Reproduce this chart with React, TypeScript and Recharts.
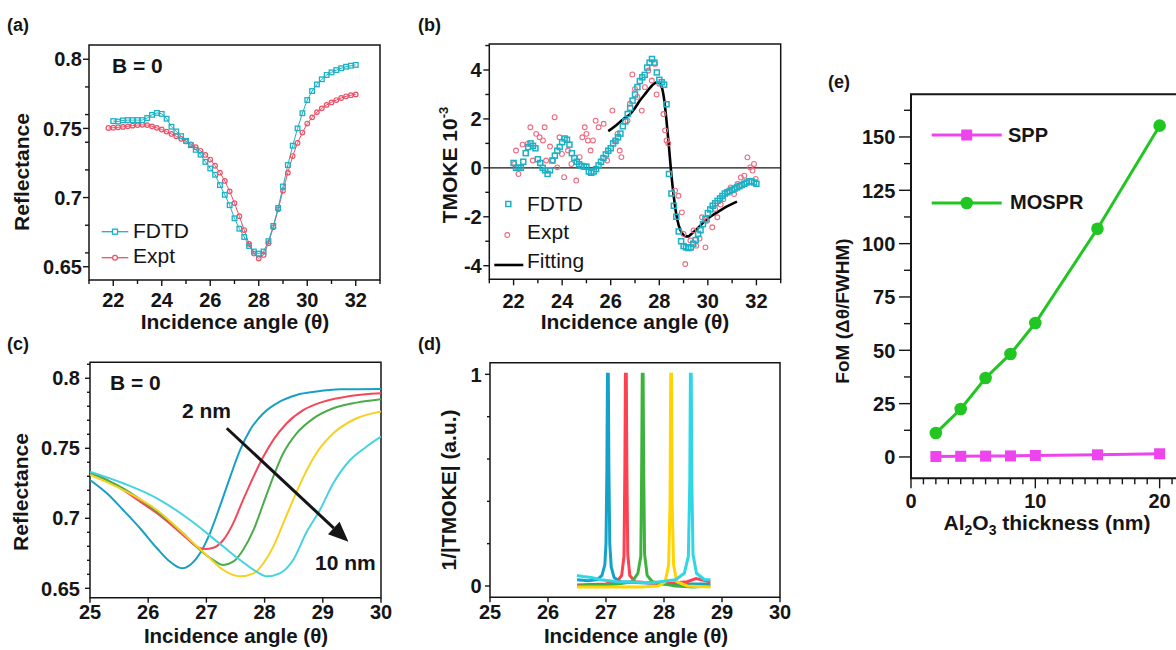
import React from "react";
import {
  ComposedChart,
  Line,
  Scatter,
  XAxis,
  YAxis,
  ReferenceArea,
  ReferenceLine,
} from "recharts";

const FONT = '"Liberation Sans", Arial, Helvetica, sans-serif';
const INK = "#151515";

// (a) reflectance at B = 0, FDTD vs experiment
const A_FDTD_START = 22;
const A_EXPT_START = 21.8;
const A_STEP = 0.2;
const aFdtd = [
  0.7553, 0.755, 0.7558, 0.756, 0.756, 0.756, 0.756, 0.7575, 0.7598, 0.7612,
  0.7605, 0.757, 0.7512, 0.7478, 0.7444, 0.741, 0.7379, 0.7345, 0.731, 0.7258,
  0.721, 0.7165, 0.709, 0.702, 0.6945, 0.685, 0.6775, 0.6715, 0.665, 0.661,
  0.6595, 0.661, 0.6685, 0.6795, 0.6925, 0.708, 0.7235, 0.7375, 0.75, 0.761,
  0.7705, 0.777, 0.7818, 0.7855, 0.7886, 0.7905, 0.7922, 0.7935, 0.7946, 0.7953,
  0.7959,
];
const aExpt = [
  0.7503, 0.7505, 0.7508, 0.7511, 0.7515, 0.752, 0.7524, 0.7526, 0.7524, 0.7515,
  0.7504, 0.7492, 0.7477, 0.746, 0.7443, 0.7425, 0.7406, 0.7385, 0.7364, 0.7338,
  0.7308, 0.7275, 0.723, 0.718, 0.712, 0.7045, 0.696, 0.6865, 0.6765, 0.6665,
  0.6595, 0.656, 0.6585, 0.667, 0.6785, 0.6915, 0.705, 0.718, 0.73, 0.7395,
  0.747, 0.7535, 0.758, 0.7618, 0.7645, 0.767, 0.7688, 0.7705, 0.772, 0.7732,
  0.774, 0.7746,
];

// (b) TMOKE in units of 1e-3
const B_FDTD_START = 22;
const B_STEP = 0.1;
const bFdtd = [
  0.2, 0, 0, 0, 0.25, 0.6, 0.85, 1.0, 0.9, 0.8,
  0.35, 0.2, 0, -0.1, -0.25, -0.1, 0.3, 0.5, 0.7, 0.85,
  1.05, 1.2, 1.15, 0.95, 0.6, 0.4, 0.25, 0.15, 0.08, 0.05,
  0.05, -0.15, -0.2, -0.15, -0.05, 0.1, 0.25, 0.4, 0.55, 0.7,
  0.8, 1.0, 1.1, 1.25, 1.4, 1.7, 1.9, 2.2, 2.45, 2.75,
  3.0, 3.3, 3.55, 3.7, 3.8, 4.1, 4.3, 4.45, 4.3, 3.9,
  3.6, 3.5, 3.4, 2.6, -0.25, -1.05, -1.55, -2.0, -2.6, -3.0,
  -3.2, -3.25, -3.28, -3.25, -3.1, -2.95, -2.7, -2.55, -2.3, -2.1,
  -1.85, -1.7, -1.55, -1.45, -1.35, -1.25, -1.15, -1.05, -1.0, -0.95,
  -0.9, -0.85, -0.8, -0.75, -0.7, -0.65, -0.6, -0.55, -0.55, -0.6,
  -0.65,
];
const bExpt: [number, number][] = [
  [22.03, 0.16], [22.1, 0.71], [22.2, -0.25], [22.37, 0.95], [22.58, 0.98],
  [22.69, 1.66], [22.79, 0.3], [22.93, 1.39], [23.07, 1.25], [23.21, 1.12],
  [23.28, 1.66], [23.34, 0.3], [23.5, 0.87], [23.62, 0.3], [23.69, 2.07],
  [23.8, 0.02], [23.89, 1.25], [23.99, 0.57], [24.08, -0.38], [24.24, 0.71],
  [24.38, 0.16], [24.58, -0.52], [24.72, 0.44], [24.83, 1.25], [24.93, 1.66],
  [25.0, 1.39], [25.06, 1.12], [25.17, 0.71], [25.27, 1.12], [25.38, 1.93],
  [25.5, 1.66], [25.71, 1.8], [25.85, 0.3], [26.07, 2.34], [26.17, 1.12],
  [26.28, 1.39], [26.37, 0.71], [26.44, 0.44], [26.69, 1.93], [26.79, 2.62],
  [26.89, 3.82], [27.0, 3.23], [27.1, 2.9], [27.28, 2.34], [27.41, 3.3],
  [27.55, 3.98], [27.69, 3.57], [27.82, 4.25], [27.89, 3.0], [28.0, 3.44],
  [28.17, 2.2], [28.24, 1.53], [28.3, 1.12], [28.37, 1.0], [28.65, -0.93],
  [28.79, -1.14], [28.93, -1.82], [29.0, -2.7], [29.07, -3.93], [29.28, -2.97],
  [29.41, -2.56], [29.52, -3.18], [29.66, -2.89], [29.76, -2.02], [29.9, -3.25],
  [29.97, -2.16], [30.18, -2.43], [30.3, -1.68], [30.39, -2.02], [30.53, -1.5],
  [30.64, -1.28], [30.8, -1.01], [30.94, -0.8], [31.08, -1.07], [31.22, -0.66],
  [31.36, -0.39], [31.5, -0.32], [31.63, 0.43], [31.74, 0.02], [31.84, -0.11],
  [31.9, 0.16], [31.97, -0.45],
];
const bFit: [number, number][] = [
  [25.9, 1.5], [26.2, 1.72], [26.5, 1.98], [26.8, 2.2], [27.0, 2.45],
  [27.2, 2.75], [27.4, 3.0], [27.6, 3.25], [27.8, 3.45], [27.95, 3.5],
  [28.1, 3.3], [28.2, 2.8], [28.3, 1.9], [28.4, 0.85], [28.5, -0.3],
  [28.6, -1.2], [28.7, -1.9], [28.8, -2.35], [28.9, -2.6], [29.0, -2.75],
  [29.1, -2.8], [29.2, -2.8], [29.3, -2.72], [29.5, -2.55], [29.75, -2.3],
  [30.0, -2.07], [30.25, -1.9], [30.5, -1.75], [30.75, -1.6], [31.0, -1.47],
  [31.2, -1.38],
];

// (c) reflectance for Al2O3 thickness 2..10 nm
const cNames = ["2 nm", "4 nm", "6 nm", "8 nm", "10 nm"];
const cColors = ["#1a9fc4", "#f5475a", "#4aac4a", "#f7d020", "#45d3e0"];
const c2nm: [number, number][] = [
  [25, 0.7274], [25.29, 0.7179], [25.57, 0.7059], [25.86, 0.6929], [26.15, 0.6786],
  [26.37, 0.6691], [26.58, 0.6643], [26.72, 0.6667], [26.89, 0.675], [27.06, 0.6893],
  [27.23, 0.7083], [27.41, 0.7298], [27.58, 0.7488], [27.75, 0.7631], [27.98, 0.775],
  [28.26, 0.7833], [28.55, 0.7881], [28.89, 0.7905], [29.3, 0.7921], [30, 0.7924],
];
const c4nm: [number, number][] = [
  [25, 0.7326], [25.29, 0.7274], [25.57, 0.7202], [25.86, 0.7119], [26.15, 0.7036],
  [26.43, 0.6941], [26.66, 0.6857], [26.83, 0.6798], [26.98, 0.6781], [27.12, 0.679],
  [27.29, 0.6845], [27.46, 0.6964], [27.63, 0.7131], [27.81, 0.7298], [27.98, 0.7441],
  [28.15, 0.756], [28.38, 0.7679], [28.67, 0.7774], [29.01, 0.7833], [29.47, 0.7874],
  [30, 0.7893],
];
const c6nm: [number, number][] = [
  [25, 0.7326], [25.57, 0.7214], [26.15, 0.7048], [26.6, 0.6893], [26.89, 0.6774],
  [27.12, 0.6702], [27.29, 0.6667], [27.46, 0.669], [27.63, 0.6774], [27.81, 0.6917],
  [27.98, 0.7107], [28.15, 0.7298], [28.32, 0.7464], [28.55, 0.7607], [28.84, 0.7714],
  [29.18, 0.7786], [29.58, 0.7826], [30, 0.785],
];
const c8nm: [number, number][] = [
  [25, 0.7309], [25.57, 0.7202], [26.15, 0.7059], [26.72, 0.6845], [27.0, 0.6738],
  [27.29, 0.6631], [27.58, 0.6586], [27.81, 0.6607], [27.98, 0.6679], [28.15, 0.6798],
  [28.32, 0.6964], [28.49, 0.7131], [28.67, 0.7298], [28.89, 0.7464], [29.18, 0.7607],
  [29.52, 0.7702], [30, 0.7762],
];
const c10nm: [number, number][] = [
  [25, 0.7333], [25.57, 0.725], [26.15, 0.7143], [26.72, 0.6988], [27.29, 0.6798],
  [27.58, 0.6702], [27.86, 0.6619], [28.04, 0.6586], [28.26, 0.6607], [28.49, 0.6702],
  [28.72, 0.69], [28.95, 0.7059], [29.18, 0.725], [29.47, 0.7416], [29.75, 0.7511],
  [30, 0.7583],
];
const cCurves = [c2nm, c4nm, c6nm, c8nm, c10nm];

// (d) 1/|TMOKE|, normalised
const dColors = ["#15a2c8", "#ff4050", "#3db33d", "#ffd400", "#2ed6e6"];
const d2nm: [number, number][] = [
  [26.5, 0.03], [26.7, 0.025], [26.85, 0.03], [26.93, 0.05], [26.98, 0.1],
  [27.0, 0.2], [27.015, 0.55], [27.025, 1.0], [27.04, 1.0], [27.05, 0.55],
  [27.065, 0.2], [27.09, 0.09], [27.14, 0.04], [27.25, 0.02], [27.6, 0.015],
  [28.2, 0.01], [28.8, 0.01],
];
const d4nm: [number, number][] = [
  [26.5, 0.005], [27.0, 0.01], [27.2, 0.025], [27.27, 0.05], [27.31, 0.14],
  [27.325, 0.55], [27.335, 1.0], [27.35, 1.0], [27.36, 0.55], [27.375, 0.15],
  [27.41, 0.05], [27.5, 0.02], [28.0, 0.01], [28.4, 0.02], [28.55, 0.035],
  [28.8, 0.02],
];
const d6nm: [number, number][] = [
  [26.5, 0.0], [27.2, 0.01], [27.45, 0.02], [27.55, 0.06], [27.6, 0.14],
  [27.615, 0.55], [27.625, 1.0], [27.64, 1.0], [27.65, 0.55], [27.665, 0.15],
  [27.71, 0.05], [27.8, 0.02], [28.2, 0.0], [28.5, -0.005], [28.8, 0.0],
];
const d8nm: [number, number][] = [
  [26.5, -0.005], [27.6, -0.005], [27.9, 0.0], [28.02, 0.02], [28.08, 0.1],
  [28.105, 0.4], [28.115, 1.0], [28.13, 1.0], [28.14, 0.4], [28.165, 0.1],
  [28.22, 0.02], [28.4, 0.0], [28.8, -0.005],
];
const d10nm: [number, number][] = [
  [26.5, 0.05], [26.6, 0.045], [26.75, 0.04], [26.9, 0.03], [27.2, 0.02],
  [27.8, 0.015], [28.2, 0.03], [28.35, 0.06], [28.42, 0.14], [28.445, 0.5],
  [28.455, 1.0], [28.47, 1.0], [28.48, 0.5], [28.5, 0.15], [28.56, 0.06],
  [28.7, 0.03], [28.8, 0.03],
];
const dCurves = [d2nm, d4nm, d6nm, d8nm, d10nm];

// (e) figure of merit vs Al2O3 thickness
const eThickness = [2, 4, 6, 8, 10, 15, 20];
const eSpp = [0.2, 0.3, 0.4, 0.5, 0.7, 1.0, 1.5];
const eMospr = [11.2, 22.5, 37, 48.3, 62.8, 107, 155.3];

const CYAN = "#1cb0c4";
const RED = "#ec5066";
const PINK = "#ee6a80";
const MAGENTA = "#ee44ee";
const GREEN = "#22c622";

const grid = (start: number, step: number, vals: number[]) =>
  vals.map((y, i) => ({ x: +(start + i * step).toFixed(3), y }));
const pairs = (list: [number, number][]) => list.map(([x, y]) => ({ x, y }));
const range = (a: number, b: number, s: number) => {
  const out: number[] = [];
  for (let v = a; v <= b + 1e-9; v += s) out.push(+v.toFixed(4));
  return out;
};

type TickSpec = {
  labels: number[];
  longs: number[];
  fmt: (v: number) => string;
  long: number;
  short: number;
  gap: number;
  size: number;
};
const has = (list: number[], v: number) =>
  list.some((m) => Math.abs(m - v) < 1e-6);

const bottomTick = (s: TickSpec) => (p: any) => {
  const v = Number(p.payload.value);
  const y0 = p.y - s.gap;
  return (
    <g>
      <line
        x1={p.x}
        x2={p.x}
        y1={y0}
        y2={y0 + (has(s.longs, v) ? s.long : s.short)}
        stroke={INK}
        strokeWidth={1.4}
      />
      {has(s.labels, v) && (
        <text
          x={p.x}
          y={p.y}
          dy="0.72em"
          textAnchor="middle"
          fontSize={s.size}
          fontWeight={700}
          fill={INK}
          fontFamily={FONT}
        >
          {s.fmt(v)}
        </text>
      )}
    </g>
  );
};

const leftTick = (s: TickSpec) => (p: any) => {
  const v = Number(p.payload.value);
  const x0 = p.x + s.gap;
  return (
    <g>
      <line
        x1={x0}
        x2={x0 - (has(s.longs, v) ? s.long : s.short)}
        y1={p.y}
        y2={p.y}
        stroke={INK}
        strokeWidth={1.4}
      />
      {has(s.labels, v) && (
        <text
          x={p.x}
          y={p.y}
          dy="0.36em"
          textAnchor="end"
          fontSize={s.size}
          fontWeight={700}
          fill={INK}
          fontFamily={FONT}
        >
          {s.fmt(v)}
        </text>
      )}
    </g>
  );
};

const openSquare = (color: string, size: number, sw: number) => (p: any) =>
  p.cx == null ? <g key={`q${p.index}`} /> : (
    <rect
      key={`q${p.index}`}
      x={p.cx - size / 2}
      y={p.cy - size / 2}
      width={size}
      height={size}
      fill="none"
      stroke={color}
      strokeWidth={sw}
    />
  );

const openCircle = (color: string, r: number, sw: number) => (p: any) =>
  p.cx == null ? <g key={`c${p.index}`} /> : (
    <circle key={`c${p.index}`} cx={p.cx} cy={p.cy} r={r} fill="none" stroke={color} strokeWidth={sw} />
  );

const filledSquare = (color: string, size: number) => (p: any) => (
  <rect key={`fs${p.index}`} x={p.cx - size / 2} y={p.cy - size / 2} width={size} height={size} fill={color} />
);
const filledCircle = (color: string, r: number) => (p: any) => (
  <circle key={`fc${p.index}`} cx={p.cx} cy={p.cy} r={r} fill={color} />
);

const arrowShape = (p: any) => {
  const { x1, y1, x2, y2 } = p;
  const dx = x2 - x1;
  const dy = y2 - y1;
  const len = Math.hypot(dx, dy) || 1;
  const ux = dx / len;
  const uy = dy / len;
  const head = 20;
  const half = 8.5;
  const bx = x2 - ux * head;
  const by = y2 - uy * head;
  return (
    <g>
      <line x1={x1} y1={y1} x2={bx} y2={by} stroke={INK} strokeWidth={3} />
      <polygon
        points={`${x2},${y2} ${bx - uy * half},${by + ux * half} ${bx + uy * half},${by - ux * half}`}
        fill={INK}
      />
    </g>
  );
};

const fmtDec = (v: number) => String(v);

function PanelA() {
  const xd: [number, number] = [21, 33];
  const yd: [number, number] = [0.6404, 0.8103];
  return (
    <ComposedChart width={400} height={320} margin={{ top: 45, right: 20, bottom: 10, left: 29 }}>
      <XAxis
        type="number" dataKey="x" domain={xd} ticks={range(21, 33, 1)} interval={0}
        allowDataOverflow height={30} axisLine={false} tickLine={false} tickSize={0} tickMargin={13}
        tick={bottomTick({ labels: range(22, 32, 2), longs: range(22, 32, 2), fmt: fmtDec, long: 6, short: 4, gap: 13, size: 20 })}
      />
      <YAxis
        type="number" dataKey="y" domain={yd}
        ticks={[0.65, 0.66, 0.68, 0.7, 0.72, 0.74, 0.75, 0.76, 0.78, 0.8]} interval={0}
        allowDataOverflow width={60} axisLine={false} tickLine={false} tickSize={0} tickMargin={7}
        tick={leftTick({ labels: [0.65, 0.7, 0.75, 0.8], longs: [0.65, 0.7, 0.75, 0.8], fmt: fmtDec, long: 6, short: 4, gap: 7, size: 20 })}
      />
      <ReferenceArea x1={xd[0]} x2={xd[1]} y1={yd[0]} y2={yd[1]} fill="none" stroke={INK} strokeWidth={1.5} ifOverflow="visible" />
      <Line data={grid(A_EXPT_START, A_STEP, aExpt)} dataKey="y" type="linear" stroke={RED} strokeWidth={1}
        dot={openCircle(RED, 2.3, 1.2)} activeDot={false} isAnimationActive={false} />
      <Line data={grid(A_FDTD_START, A_STEP, aFdtd)} dataKey="y" type="linear" stroke={CYAN} strokeWidth={1}
        dot={openSquare(CYAN, 4.6, 1.3)} activeDot={false} isAnimationActive={false} />
    </ComposedChart>
  );
}

function PanelB() {
  const xd: [number, number] = [21, 33];
  const yd: [number, number] = [-4.556, 5.063];
  return (
    <ComposedChart width={400} height={320} margin={{ top: 44, right: 19.3, bottom: 10.7, left: 29.3 }}>
      <XAxis
        type="number" dataKey="x" domain={xd} ticks={range(21, 33, 1)} interval={0}
        allowDataOverflow height={30} axisLine={false} tickLine={false} tickSize={0} tickMargin={14}
        tick={bottomTick({ labels: range(22, 32, 2), longs: range(22, 32, 2), fmt: fmtDec, long: 6, short: 4, gap: 14, size: 20 })}
      />
      <YAxis
        type="number" dataKey="y" domain={yd} ticks={range(-4, 5, 1)} interval={0}
        allowDataOverflow width={60} axisLine={false} tickLine={false} tickSize={0} tickMargin={7.6}
        tick={leftTick({ labels: [-4, -2, 0, 2, 4], longs: [-4, -2, 0, 2, 4], fmt: fmtDec, long: 6, short: 4, gap: 7.6, size: 20 })}
      />
      <ReferenceArea x1={xd[0]} x2={xd[1]} y1={yd[0]} y2={yd[1]} fill="none" stroke={INK} strokeWidth={1.5} ifOverflow="visible" />
      <ReferenceLine y={0} stroke={INK} strokeWidth={1.3} />
      <Scatter data={pairs(bExpt)} dataKey="y" shape={openCircle(PINK, 2.4, 1.1)} isAnimationActive={false} />
      <Scatter data={grid(B_FDTD_START, B_STEP, bFdtd)} dataKey="y" shape={openSquare(CYAN, 5, 1.5)} isAnimationActive={false} />
      <Line data={pairs(bFit)} dataKey="y" type="monotone" stroke="#000" strokeWidth={2.6} dot={false} activeDot={false} isAnimationActive={false} />
    </ComposedChart>
  );
}

function PanelC() {
  const xd: [number, number] = [25, 30];
  const yd: [number, number] = [0.6433, 0.8114];
  return (
    <ComposedChart width={400} height={320} margin={{ top: 42.3, right: 19, bottom: 12.3, left: 30 }}>
      <XAxis
        type="number" dataKey="x" domain={xd} ticks={range(25, 30, 1)} interval={0}
        allowDataOverflow height={30} axisLine={false} tickLine={false} tickSize={0} tickMargin={7}
        tick={bottomTick({ labels: range(25, 30, 1), longs: range(25, 30, 1), fmt: fmtDec, long: 5, short: 3, gap: 7, size: 20 })}
      />
      <YAxis
        type="number" dataKey="y" domain={yd} ticks={range(0.65, 0.81, 0.01)} interval={0}
        allowDataOverflow width={60} axisLine={false} tickLine={false} tickSize={0} tickMargin={10}
        tick={leftTick({ labels: [0.65, 0.7, 0.75, 0.8], longs: [0.65, 0.7, 0.75, 0.8], fmt: fmtDec, long: 5, short: 3, gap: 10, size: 20 })}
      />
      <ReferenceArea x1={xd[0]} x2={xd[1]} y1={yd[0]} y2={yd[1]} fill="none" stroke={INK} strokeWidth={1.5} ifOverflow="visible" />
      {cCurves.map((c, i) => (
        <Line key={cNames[i]} name={cNames[i]} data={pairs(c)} dataKey="y" type="monotone"
          stroke={cColors[i]} strokeWidth={2} dot={false} activeDot={false} isAnimationActive={false} />
      ))}
      <ReferenceLine
        segment={[{ x: 27.35, y: 0.7643 }, { x: 29.44, y: 0.6833 }]}
        ifOverflow="visible"
        shape={arrowShape}
      />
    </ComposedChart>
  );
}

function PanelD() {
  const xd: [number, number] = [25, 30];
  const yd: [number, number] = [-0.0534, 1.055];
  return (
    <ComposedChart width={400} height={320} margin={{ top: 42.7, right: 20, bottom: 12.7, left: 30 }}>
      <XAxis
        type="number" dataKey="x" domain={xd} ticks={range(25, 30, 1)} interval={0}
        allowDataOverflow height={30} axisLine={false} tickLine={false} tickSize={0} tickMargin={7}
        tick={bottomTick({ labels: range(25, 30, 1), longs: range(25, 30, 1), fmt: fmtDec, long: 5, short: 3, gap: 7, size: 20 })}
      />
      <YAxis
        type="number" dataKey="y" domain={yd} ticks={range(0, 1, 0.2)} interval={0}
        allowDataOverflow width={60} axisLine={false} tickLine={false} tickSize={0} tickMargin={8.3}
        tick={leftTick({ labels: [0, 1], longs: [0, 1], fmt: fmtDec, long: 5, short: 3, gap: 8.3, size: 20 })}
      />
      <ReferenceArea x1={xd[0]} x2={xd[1]} y1={yd[0]} y2={yd[1]} fill="none" stroke={INK} strokeWidth={1.5} ifOverflow="visible" />
      {dCurves.map((c, i) => (
        <Line key={cNames[i]} name={cNames[i]} data={pairs(c)} dataKey="y" type="linear"
          stroke={dColors[i]} strokeWidth={3} dot={false} activeDot={false} isAnimationActive={false} />
      ))}
    </ComposedChart>
  );
}

function PanelE() {
  const xd: [number, number] = [0, 22];
  const yd: [number, number] = [-10, 170];
  const spp = eThickness.map((x, i) => ({ x, y: eSpp[i] }));
  const mospr = eThickness.map((x, i) => ({ x, y: eMospr[i] }));
  return (
    <ComposedChart width={380} height={480} margin={{ top: 34.3, right: 15.5, bottom: 31.7, left: 31 }}>
      <XAxis
        type="number" dataKey="x" domain={xd} ticks={range(0, 21, 1)} interval={0}
        allowDataOverflow height={30} axisLine={false} tickLine={false} tickSize={0} tickMargin={15}
        tick={bottomTick({ labels: [0, 10, 20], longs: [0, 10, 20], fmt: fmtDec, long: 10, short: 6, gap: 15, size: 20 })}
      />
      <YAxis
        type="number" dataKey="y" domain={yd} ticks={range(0, 162.5, 12.5)} interval={0}
        allowDataOverflow width={60} axisLine={false} tickLine={false} tickSize={0} tickMargin={15.7}
        tick={leftTick({ labels: range(0, 150, 25), longs: range(0, 150, 25), fmt: fmtDec, long: 12, short: 7, gap: 15.7, size: 20 })}
      />
      <ReferenceArea x1={xd[0]} x2={xd[1]} y1={yd[0]} y2={yd[1]} fill="none" stroke={INK} strokeWidth={2} ifOverflow="visible" />
      <Line data={spp} dataKey="y" name="SPP" type="linear" stroke={MAGENTA} strokeWidth={3}
        dot={filledSquare(MAGENTA, 11)} activeDot={false} isAnimationActive={false} />
      <Line data={mospr} dataKey="y" name="MOSPR" type="linear" stroke={GREEN} strokeWidth={3}
        dot={filledCircle(GREEN, 6.3)} activeDot={false} isAnimationActive={false} />
    </ComposedChart>
  );
}

const place = (left: number, top: number): React.CSSProperties => ({ position: "absolute", left, top });

export default function App() {
  const bold = { fontWeight: 700, fill: INK } as const;
  return (
    <div
      style={{
        position: "absolute", left: 0, top: 0, width: 1176, height: 650,
        overflow: "hidden", background: "#fff", fontFamily: FONT,
      }}
    >
      <div style={place(0, 0)}><PanelA /></div>
      <div style={place(400, 0)}><PanelB /></div>
      <div style={place(0, 320)}><PanelC /></div>
      <div style={place(400, 320)}><PanelD /></div>
      <div style={place(820, 60)}><PanelE /></div>

      <svg width={1176} height={650} style={{ position: "absolute", left: 0, top: 0, pointerEvents: "none" }} fontFamily={FONT}>
        {/* panel letters */}
        <text x={7} y={31} fontSize={18} {...bold}>(a)</text>
        <text x={418} y={31} fontSize={18} {...bold}>(b)</text>
        <text x={7} y={350} fontSize={18} {...bold}>(c)</text>
        <text x={418} y={350} fontSize={18} {...bold}>(d)</text>
        <text x={828} y={88} fontSize={18} {...bold}>(e)</text>

        {/* axis titles */}
        <text x={235} y={329} textAnchor="middle" fontSize={21} {...bold}>Incidence angle (θ)</text>
        <text x={635} y={329} textAnchor="middle" fontSize={21} {...bold}>Incidence angle (θ)</text>
        <text x={236} y={643} textAnchor="middle" fontSize={20.5} {...bold}>Incidence angle (θ)</text>
        <text x={636} y={643} textAnchor="middle" fontSize={20.5} {...bold}>Incidence angle (θ)</text>
        <text x={1047} y={530} textAnchor="middle" fontSize={21} {...bold}>
          Al<tspan dy={5} fontSize={14}>2</tspan>
          <tspan dy={-5}>O</tspan>
          <tspan dy={5} fontSize={14}>3</tspan>
          <tspan dy={-5}> thickness (nm)</tspan>
        </text>
        <text transform="translate(29,172) rotate(-90)" textAnchor="middle" fontSize={21} {...bold}>Reflectance</text>
        <text transform="translate(28,492) rotate(-90)" textAnchor="middle" fontSize={21} {...bold}>Reflectance</text>
        <text transform="translate(457,165) rotate(-90)" textAnchor="middle" fontSize={21} {...bold}>
          TMOKE 10<tspan dy={-9} fontSize={13}>-3</tspan>
        </text>
        <text transform="translate(456,490) rotate(-90)" textAnchor="middle" fontSize={21} {...bold}>1/|TMOKE| (a.u.)</text>
        <text transform="translate(849,311) rotate(-90)" textAnchor="middle" fontSize={19} {...bold}>FoM (Δθ/FWHM)</text>

        {/* annotations */}
        <text x={112} y={73} fontSize={21} {...bold}>B = 0</text>
        <text x={110} y={390} fontSize={21} {...bold}>B = 0</text>
        <text x={182} y={418} fontSize={21} {...bold}>2 nm</text>
        <text x={315} y={570} fontSize={21} {...bold}>10 nm</text>

        {/* legend (a) */}
        <line x1={101.7} x2={128.3} y1={231.7} y2={231.7} stroke={CYAN} strokeWidth={1.3} />
        <rect x={112.5} y={229.2} width={5} height={5} fill="#fff" stroke={CYAN} strokeWidth={1.3} />
        <text x={133} y={238} fontSize={21} fill={INK}>FDTD</text>
        <line x1={101.7} x2={128.3} y1={257.7} y2={257.7} stroke={RED} strokeWidth={1.3} />
        <circle cx={115} cy={257.7} r={2.4} fill="#fff" stroke={RED} strokeWidth={1.2} />
        <text x={133} y={263} fontSize={21} fill={INK}>Expt</text>

        {/* legend (b) */}
        <rect x={505.8} y={201.5} width={5} height={5} fill="none" stroke={CYAN} strokeWidth={1.5} />
        <text x={527} y={211} fontSize={21} fill={INK}>FDTD</text>
        <circle cx={507.3} cy={235} r={2.4} fill="none" stroke={PINK} strokeWidth={1.1} />
        <text x={527} y={239} fontSize={21} fill={INK}>Expt</text>
        <line x1={494.3} x2={523.3} y1={265} y2={265} stroke="#000" strokeWidth={2.6} />
        <text x={527} y={268} fontSize={21} fill={INK}>Fitting</text>

        {/* legend (e) */}
        <line x1={931.7} x2={1001.7} y1={135} y2={135} stroke={MAGENTA} strokeWidth={3} />
        <rect x={961.2} y={129.5} width={11} height={11} fill={MAGENTA} />
        <text x={1008} y={142} fontSize={20} {...bold}>SPP</text>
        <line x1={931.7} x2={1001.7} y1={203} y2={203} stroke={GREEN} strokeWidth={3} />
        <circle cx={966.7} cy={203} r={6.3} fill={GREEN} />
        <text x={1010} y={209} fontSize={20} {...bold}>MOSPR</text>
      </svg>
    </div>
  );
}
